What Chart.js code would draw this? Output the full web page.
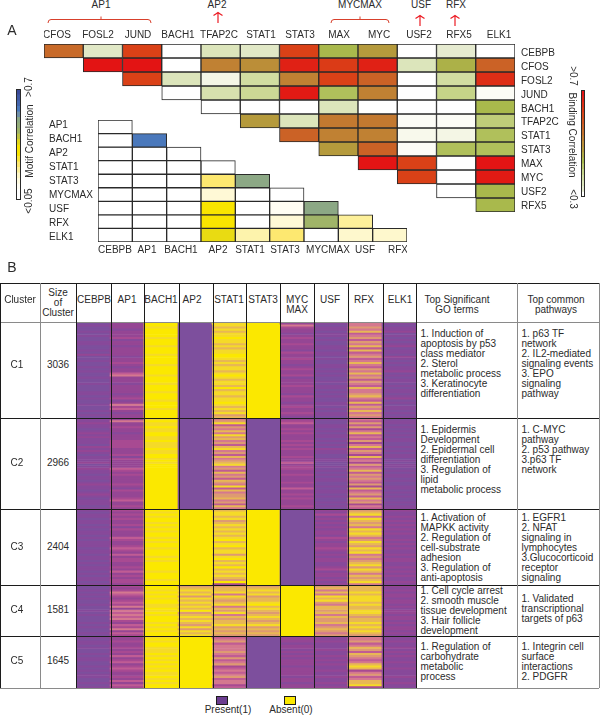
<!DOCTYPE html>
<html>
<head>
<meta charset="utf-8">
<title>TF clusters</title>
<script src="https://cdn.jsdelivr.net/npm/chart.js@4/dist/chart.umd.min.js"></script>
<style>
    html, body { margin: 0; padding: 0; background: #fff; }
    #page { position: relative; width: 600px; height: 717px; overflow: hidden; font-family: "Liberation Sans", Arial, sans-serif; color: #2b2b2b; }
    #page canvas { position: absolute; }
    .t { position: absolute; font-size: 10px; line-height: 10px; white-space: pre; }
    .c { transform: translate(-50%, -50%); text-align: center; }
    .line { position: absolute; z-index: 3; }
    svg { position: absolute; left: 0; top: 0; }
</style>
</head>
<body>
<div id="page">
    <svg width="600" height="40" fill="none" stroke="#d8402c" stroke-width="1">
        <path d="M48 23 Q48 19.5 51 19.5 L148 19.5 Q151 19.5 151 23 M101 19.5 V16.5" />
        <path d="M331 23 Q331 19.5 334 19.5 L386 19.5 Q389 19.5 389 23 M360 19.5 V16.5" />
        <g stroke="#ec1c24" stroke-width="1.2">
            <path d="M218 23 V13 M213.5 15.5 Q216 14 218 12.5 Q220 14 222.5 15.5" />
            <path d="M420 26 V16 M415.5 18.5 Q418 17 420 15.5 Q422 17 424.5 18.5" />
            <path d="M455 26 V16 M450.5 18.5 Q453 17 455 15.5 Q457 17 459.5 18.5" />
        </g>
    </svg>
</div>
<script>
// Binding correlation, upper triangle (each row starts on the diagonal)
const bindingCols = ['CFOS', 'FOSL2', 'JUND', 'BACH1', 'TFAP2C', 'STAT1', 'STAT3', 'MAX', 'MYC', 'USF2', 'RFX5', 'ELK1'];
const bindingRows = ['CEBPB', 'CFOS', 'FOSL2', 'JUND', 'BACH1', 'TFAP2C', 'STAT1', 'STAT3', 'MAX', 'MYC', 'USF2', 'RFX5'];
const bindingCEBPB = [0.57, 0.37, 0.63, 0.2, 0.38, 0.37, 0.63, 0.46, 0.5, 0.2, 0.36, 0.2];
const bindingCFOS = [0.7, 0.7, 0.2, 0.54, 0.52, 0.68, 0.64, 0.68, 0.38, 0.47, 0.58];
const bindingFOSL2 = [0.63, 0.38, 0.33, 0.4, 0.54, 0.63, 0.58, 0.2, 0.4, 0.66];
const bindingJUND = [0.2, 0.39, 0.41, 0.69, 0.45, 0.54, 0.2, 0.42, 0.31];
const bindingBACH1 = [0.2, 0.2, 0.2, 0.38, 0.2, 0.2, 0.2, 0.46];
const bindingTFAP2C = [0.5, 0.38, 0.55, 0.55, 0.31, 0.31, 0.43];
const bindingSTAT1 = [0.58, 0.54, 0.54, 0.32, 0.33, 0.45];
const bindingSTAT3 = [0.5, 0.58, 0.31, 0.45, 0.45];
const bindingMAX = [0.7, 0.63, 0.2, 0.7];
const bindingMYC = [0.63, 0.2, 0.69];
const bindingUSF2 = [0.2, 0.46];
const bindingRFX5 = [0.46];

// Motif correlation, lower triangle (each row starts at CEBPB)
const motifCols = ['CEBPB', 'AP1', 'BACH1', 'AP2', 'STAT1', 'STAT3', 'MYCMAX', 'USF', 'RFX'];
const motifRows = ['AP1', 'BACH1', 'AP2', 'STAT1', 'STAT3', 'MYCMAX', 'USF', 'RFX', 'ELK1'];
const motifAP1 = [0];
const motifBACH1 = [0, 0.6];
const motifAP2 = [0, 0, 0];
const motifSTAT1 = [0, 0, 0, 0];
const motifSTAT3 = [0, 0, 0, 0.25, 0.5];
const motifMYCMAX = [0, 0, 0, 0.12, 0, 0];
const motifUSF = [0, 0, 0, 0.35, 0, 0.07, 0.5];
const motifRFX = [0, 0, 0, 0.35, 0, 0.12, 0.45, 0.2];
const motifELK1 = [0, 0, 0, 0.37, 0.18, 0.25, 0, 0.14, 0.14];

// Colour bar steps, top to bottom
const bindingBarLevels = [0.7, 0.68, 0.66, 0.64, 0.62, 0.6, 0.58, 0.56, 0.54, 0.52, 0.5, 0.48, 0.46, 0.44, 0.42, 0.4, 0.38, 0.36, 0.2];
const motifBarLevels = [0.7, 0.67, 0.64, 0.6, 0.55, 0.5, 0.48, 0.45, 0.42, 0.38, 0.35, 0.35, 0.3, 0.25, 0.2, 0.15, 0.1, 0.07, 0, 0];

// Clusters of panel B. One digit per stripe, top to bottom: 0 = present ... 9 = absent
const clusterNames = ['C1', 'C2', 'C3', 'C4', 'C5'];
const clusterSizes = ['3036', '2966', '2404', '1581', '1645'];
const clusterCols = ['CEBPB', 'AP1', 'BACH1', 'AP2', 'STAT1', 'STAT3', 'MYCMAX', 'USF', 'RFX', 'ELK1'];
const stripesC1 = ['0100101001100102001001010010010001101001001010', '2221222312212222122321224522212222123125342122', '9989999899989998999989999899989998999899989999', '0', '8878788988787889987878878987887978878898787867', '9', '2532212322322132232212322312223222132212322321', '1011011010011011010011010100101101010011010110', '5565745646574745645754657564654755675474657565', '1011201010120110210101120101101011012010110101'];
const stripesC2 = ['1121101212111021210111201211011012110121011101', '2522322122233332223132222432322223213222342232', '8988988998898889889989899999999999999999999999', '0', '5684657586756478564756785647564765847566756475', '0', '2342232322232323222322423322322232242232322232', '1001101011010102110011001010101100101101001010', '5464635745463574653745364574656546374564756354', '0110101010110010101101011010110100110101001011'];
const stripesC3 = ['101101101011010111011011010110101101', '323232231322243223432423322324232332', '989899898989989899899989899998999899', '9', '788786787878789789788689787978787693', '9', '0', '213121212122132122321212211231221212', '678587675878756876878565678687576785', '211212121212112121211212211212121121'];
const stripesC4 = ['0010101001001010001010010', '3235432343525454532435243', '9989898998898989998989899', '6787868787879678787686878', '6778587678576857677867676', '6787867789787678767867676', '9', '6757587865776757667567656', '7778788878778876778787876', '2121221221212212212122121'];
const stripesC5 = ['1011010010110010101100101', '2232232324234234322324243', '8989988898989898988989899', '9', '4564555654645634545645534', '0', '2221221212122212222122122', '1121112112121211211211212', '5564576476545787356457783', '1121121212112112111211211'];
const stripeColors = ['#7d4f9d', '#87499a', '#954694', '#a84a92', '#c05c94', '#d4788f', '#de9a72', '#e8b755', '#f5da28', '#fbe800'];

const goTerms = [
    '1. Induction of\napoptosis by p53\nclass mediator\n2. Sterol\nmetabolic process\n3. Keratinocyte\ndifferentiation',
    '1. Epidermis\nDevelopment\n2. Epidermal cell\ndifferentiation\n3. Regulation of\nlipid\nmetabolic process',
    '1. Activation of\nMAPKK activity\n2. Regulation of\ncell-substrate\nadhesion\n3. Regulation of\nanti-apoptosis',
    '1. Cell cycle arrest\n2. smooth muscle\ntissue development\n3. Hair follicle\ndevelopment',
    '1. Regulation of\ncarbohydrate\nmetabolic\nprocess'
];
const pathways = [
    '1. p63 TF\nnetwork\n2. IL2-mediated\nsignaling events\n3. EPO\nsignaling\npathway',
    '1. C-MYC\npathway\n2. p53 pathway\n3.p63 TF\nnetwork',
    '1. EGFR1\n2. NFAT\nsignaling in\nlymphocytes\n3.Glucocorticoid\nreceptor\nsignaling',
    '1. Validated\ntranscriptional\ntargets of p63',
    '1. Integrin cell\nsurface\ninteractions\n2. PDGFR'
];

const page = document.getElementById('page');
const FONT = '"Liberation Sans", Arial, sans-serif';

// Colour maps
const bindingStops = [[0.3, '#ffffff'], [0.32, '#f8f9ec'], [0.36, '#e6ebd0'], [0.38, '#dce5bb'], [0.42, '#c6d488'], [0.46, '#a9b94c'], [0.5, '#b59a3c'], [0.54, '#c08133'], [0.58, '#cb6226'], [0.63, '#da4117'], [0.7, '#e31414']];
const motifStops = [[0.05, '#ffffff'], [0.1, '#fffbe0'], [0.15, '#fef7c8'], [0.2, '#fdf09a'], [0.25, '#fde870'], [0.35, '#f9e500'], [0.4, '#d2cd2c'], [0.45, '#a0b468'], [0.5, '#8ca885'], [0.55, '#6f8fa8'], [0.6, '#4a78bb'], [0.7, '#3a4a9a']];

function hex(c) {
    return [1, 3, 5].map(function (i) { return parseInt(c.substr(i, 2), 16); });
}

function colorFrom(stops, v) {
    if (v <= stops[0][0]) return stops[0][1];
    for (let i = 1; i < stops.length; i++) {
        if (v <= stops[i][0]) {
            const f = (v - stops[i - 1][0]) / (stops[i][0] - stops[i - 1][0]);
            const a = hex(stops[i - 1][1]), b = hex(stops[i][1]);
            return 'rgb(' + a.map(function (x, k) { return Math.round(x + (b[k] - x) * f); }).join(',') + ')';
        }
    }
    return stops[stops.length - 1][1];
}

function addCanvas(left, top, width, height) {
    const cv = document.createElement('canvas');
    cv.width = width;
    cv.height = height;
    cv.style.left = left + 'px';
    cv.style.top = top + 'px';
    cv.style.width = width + 'px';
    cv.style.height = height + 'px';
    page.appendChild(cv);
    return cv;
}

const baseOptions = {
    responsive: false,
    animation: false,
    layout: { padding: 0 },
    plugins: { legend: { display: false }, tooltip: { enabled: false } }
};

const hiddenAxis = { display: false, grid: { display: false }, offset: true };

// An axis with its ticks at given page positions, so labels can sit where the figure has them
function labelAxis(position, area, labels, centers, size, padding, extra) {
    const horizontal = position === 'top' || position === 'bottom';
    return {
        type: 'linear',
        position: position,
        offset: false,
        min: horizontal ? area.left : area.top,
        max: horizontal ? area.right : area.bottom,
        reverse: !horizontal,
        grid: { display: false, drawTicks: false },
        border: { display: false },
        afterBuildTicks: function (axis) {
            axis.ticks = centers.map(function (v) { return { value: v }; });
        },
        afterFit: function (axis) {
            if (horizontal) axis.height = size; else axis.width = size;
            // keep the plot area on the cell grid, labels must not push it in
            axis.paddingLeft = axis.paddingRight = axis.paddingTop = axis.paddingBottom = 0;
        },
        ticks: Object.assign({
            autoSkip: false,
            maxRotation: 0,
            minRotation: 0,
            padding: padding,
            color: '#2b2b2b',
            font: { family: FONT, size: 10 },
            callback: function (v, i) { return labels[i]; }
        }, extra || {})
    };
}

// Triangle heatmap: one dataset per row of floating bars
function triangle(cv, cols, rows, values, stops, xAxis, yAxis, lineWidth) {
    const datasets = rows.map(function (name, r) {
        return {
            label: name,
            xAxisID: 'x',
            yAxisID: 'y',
            data: values[r].map(function (v) { return v === null ? null : [r, r + 1]; }),
            backgroundColor: values[r].map(function (v) { return v === null ? 'rgba(0,0,0,0)' : colorFrom(stops, v); }),
            borderColor: '#2a2a2a',
            borderWidth: lineWidth,
            borderSkipped: false,
            barPercentage: 1,
            categoryPercentage: 1,
            grouped: false
        };
    });
    new Chart(cv, {
        type: 'bar',
        data: { labels: cols, datasets: datasets },
        options: Object.assign({}, baseOptions, {
            scales: {
                x: hiddenAxis,
                y: { display: false, min: 0, max: rows.length, reverse: true, grid: { display: false } },
                xLabels: xAxis,
                yLabels: yAxis
            }
        })
    });
}

// Panel A, binding correlation
const bindingValues = [bindingCEBPB, bindingCFOS, bindingFOSL2, bindingJUND, bindingBACH1, bindingTFAP2C, bindingSTAT1, bindingSTAT3, bindingMAX, bindingMYC, bindingUSF2, bindingRFX5]
    .map(function (row) { return new Array(bindingCols.length - row.length).fill(null).concat(row); });
const bindingArea = { left: 44, right: 515, top: 44, bottom: 212 };
triangle(
    addCanvas(44, 26, 533, 186), bindingCols, bindingRows, bindingValues, bindingStops,
    labelAxis('top', bindingArea, bindingCols, [57, 98, 138, 178, 219, 261, 300, 339, 379, 419, 459, 499], 18, 3),
    labelAxis('right', bindingArea, bindingRows, [53, 67, 81, 95, 109, 122, 136, 150, 164, 178, 192, 206], 62, 6),
    1
);

// Panel A, motif correlation
const motifValues = [motifAP1, motifBACH1, motifAP2, motifSTAT1, motifSTAT3, motifMYCMAX, motifUSF, motifRFX, motifELK1]
    .map(function (row) { return row.concat(new Array(motifCols.length - row.length).fill(null)); });
const motifArea = { left: 98, right: 407, top: 120, bottom: 242 };
triangle(
    addCanvas(49, 120, 358, 138), motifCols, motifRows, motifValues, motifStops,
    labelAxis('bottom', motifArea, motifCols, [115, 147, 181, 218, 250, 285, 328, 365, 398], 16, 2),
    labelAxis('left', motifArea, motifRows, [125, 139, 153, 167, 181, 195, 209, 223, 237], 49, 0, { crossAlign: 'far' }),
    1
);

// Colour bars
function colorBar(cv, levels, stops) {
    new Chart(cv, {
        type: 'bar',
        data: {
            labels: ['bar'],
            datasets: levels.map(function (v, i) {
                return { data: [[i, i + 1]], backgroundColor: colorFrom(stops, v), barPercentage: 1, categoryPercentage: 1, grouped: false };
            })
        },
        options: Object.assign({}, baseOptions, {
            scales: { x: hiddenAxis, y: { display: false, min: 0, max: levels.length, reverse: true, grid: { display: false } } }
        })
    });
    cv.style.outline = '1px solid #2a2a2a';
    cv.style.outlineOffset = '-1px';
}
colorBar(addCanvas(16, 89, 5, 111), motifBarLevels, motifStops);
colorBar(addCanvas(581, 90, 4, 107), bindingBarLevels, bindingStops);

// Panel B, one chart per cluster so the rows land on the table lines
const clusterEdges = [322, 418, 509, 585, 636, 688];
[stripesC1, stripesC2, stripesC3, stripesC4, stripesC5].forEach(function (stripes, c) {
    const longest = Math.max.apply(null, stripes.map(function (s) { return s.length; }));
    const datasets = [];
    for (let i = 0; i < longest; i++) {
        datasets.push({
            data: stripes.map(function (s) {
                return i < s.length ? [i / s.length, (i + 1) / s.length] : null;
            }),
            backgroundColor: stripes.map(function (s) {
                return i < s.length ? stripeColors[+s[i]] : 'rgba(0,0,0,0)';
            }),
            barPercentage: 1,
            categoryPercentage: 1,
            grouped: false
        });
    }
    new Chart(addCanvas(75.5, clusterEdges[c], 340, clusterEdges[c + 1] - clusterEdges[c]), {
        type: 'bar',
        data: { labels: clusterCols, datasets: datasets },
        options: Object.assign({}, baseOptions, {
            scales: { x: hiddenAxis, y: { display: false, min: 0, max: 1, reverse: true, grid: { display: false } } }
        })
    });
});

// Text and table lines
function put(text, x, y, size) {
    const d = document.createElement('div');
    d.className = 't c';
    d.textContent = text;
    d.style.left = x + 'px';
    d.style.top = y + 'px';
    if (size) d.style.fontSize = size + 'px';
    page.appendChild(d);
    return d;
}

function block(text, x, y) {
    const d = document.createElement('div');
    d.className = 't';
    d.textContent = text;
    d.style.left = x + 'px';
    d.style.top = y + 'px';
    page.appendChild(d);
}

function turned(text, x, y, angle) {
    const d = put(text, x, y);
    d.style.transform = 'translate(-50%, -50%) rotate(' + angle + 'deg)';
}

function line(x, y, w, h, color) {
    const d = document.createElement('div');
    d.className = 'line';
    d.style.left = x + 'px';
    d.style.top = y + 'px';
    d.style.width = w + 'px';
    d.style.height = h + 'px';
    d.style.background = color;
    page.appendChild(d);
}

put('A', 12, 30, 14);
put('B', 12, 267, 14);
put('AP1', 101, 5);
put('AP2', 217, 5);
put('MYCMAX', 360, 5);
put('USF', 421, 5);
put('RFX', 456, 5);

turned('>0.7', 29, 87, -90);
turned('Motif Correlation', 30, 141, -90);
turned('<0.05', 29, 201, -90);
turned('>0.7', 573, 76, 90);
turned('Binding Correlation', 572, 135, 90);
turned('<0.3', 573, 199, 90);

put('Cluster', 20, 300);
put('Size\nof\nCluster', 58, 303);
const headerCenters = [94, 127, 161, 192, 229, 263, 297, 330, 364, 400];
clusterCols.forEach(function (name, i) {
    put(name === 'MYCMAX' ? 'MYC\nMAX' : name, headerCenters[i], name === 'MYCMAX' ? 305 : 300);
});
put('Top Significant\nGO terms', 457, 305);
put('Top common\npathways', 556, 305);

const rowCenters = [365, 463, 547, 610, 661];
const goTops = [329, 425, 513, 586, 642];
const pathwayTops = [329, 425, 513, 594, 642];
clusterNames.forEach(function (name, i) {
    put(name, 17, rowCenters[i]);
    put(clusterSizes[i], 58, rowCenters[i]);
    block(goTerms[i], 420.5, goTops[i]);
    block(pathways[i], 521.5, pathwayTops[i]);
});

const GRAY = '#8a8a8a';
const DARK = '#1c1c1c';
line(0, 283, 599, 1, DARK);
line(0, 321.5, 599, 1.2, GRAY);
line(0, 417.5, 599, 1, DARK);
line(0, 509, 599, 1, DARK);
line(0, 585, 599, 1, DARK);
line(0, 636, 599, 1, DARK);
line(0, 687.5, 599, 1.2, GRAY);
line(0, 283, 1, 405, DARK);
line(39.5, 283, 1.5, 405, GRAY);
line(598.5, 283, 1, 405, GRAY);
line(516.5, 283, 1.5, 405, GRAY);
[75.5, 110.5, 143.5, 178.5, 212.5, 245.5, 280, 313.5, 347.5, 383, 415.5].forEach(function (x) {
    line(x, 283, 1, 405, DARK);
});

// Legend
function swatch(x, color) {
    const d = document.createElement('div');
    d.style.cssText = 'position:absolute;top:696px;width:9.5px;height:6.5px;border:1px solid #1c1c1c;left:' + x + 'px;background:' + color;
    page.appendChild(d);
}
swatch(216, '#6b3d90');
swatch(284, '#fbe800');
put('Present(1)', 228, 710);
put('Absent(0)', 291, 710);
</script>
</body>
</html>
